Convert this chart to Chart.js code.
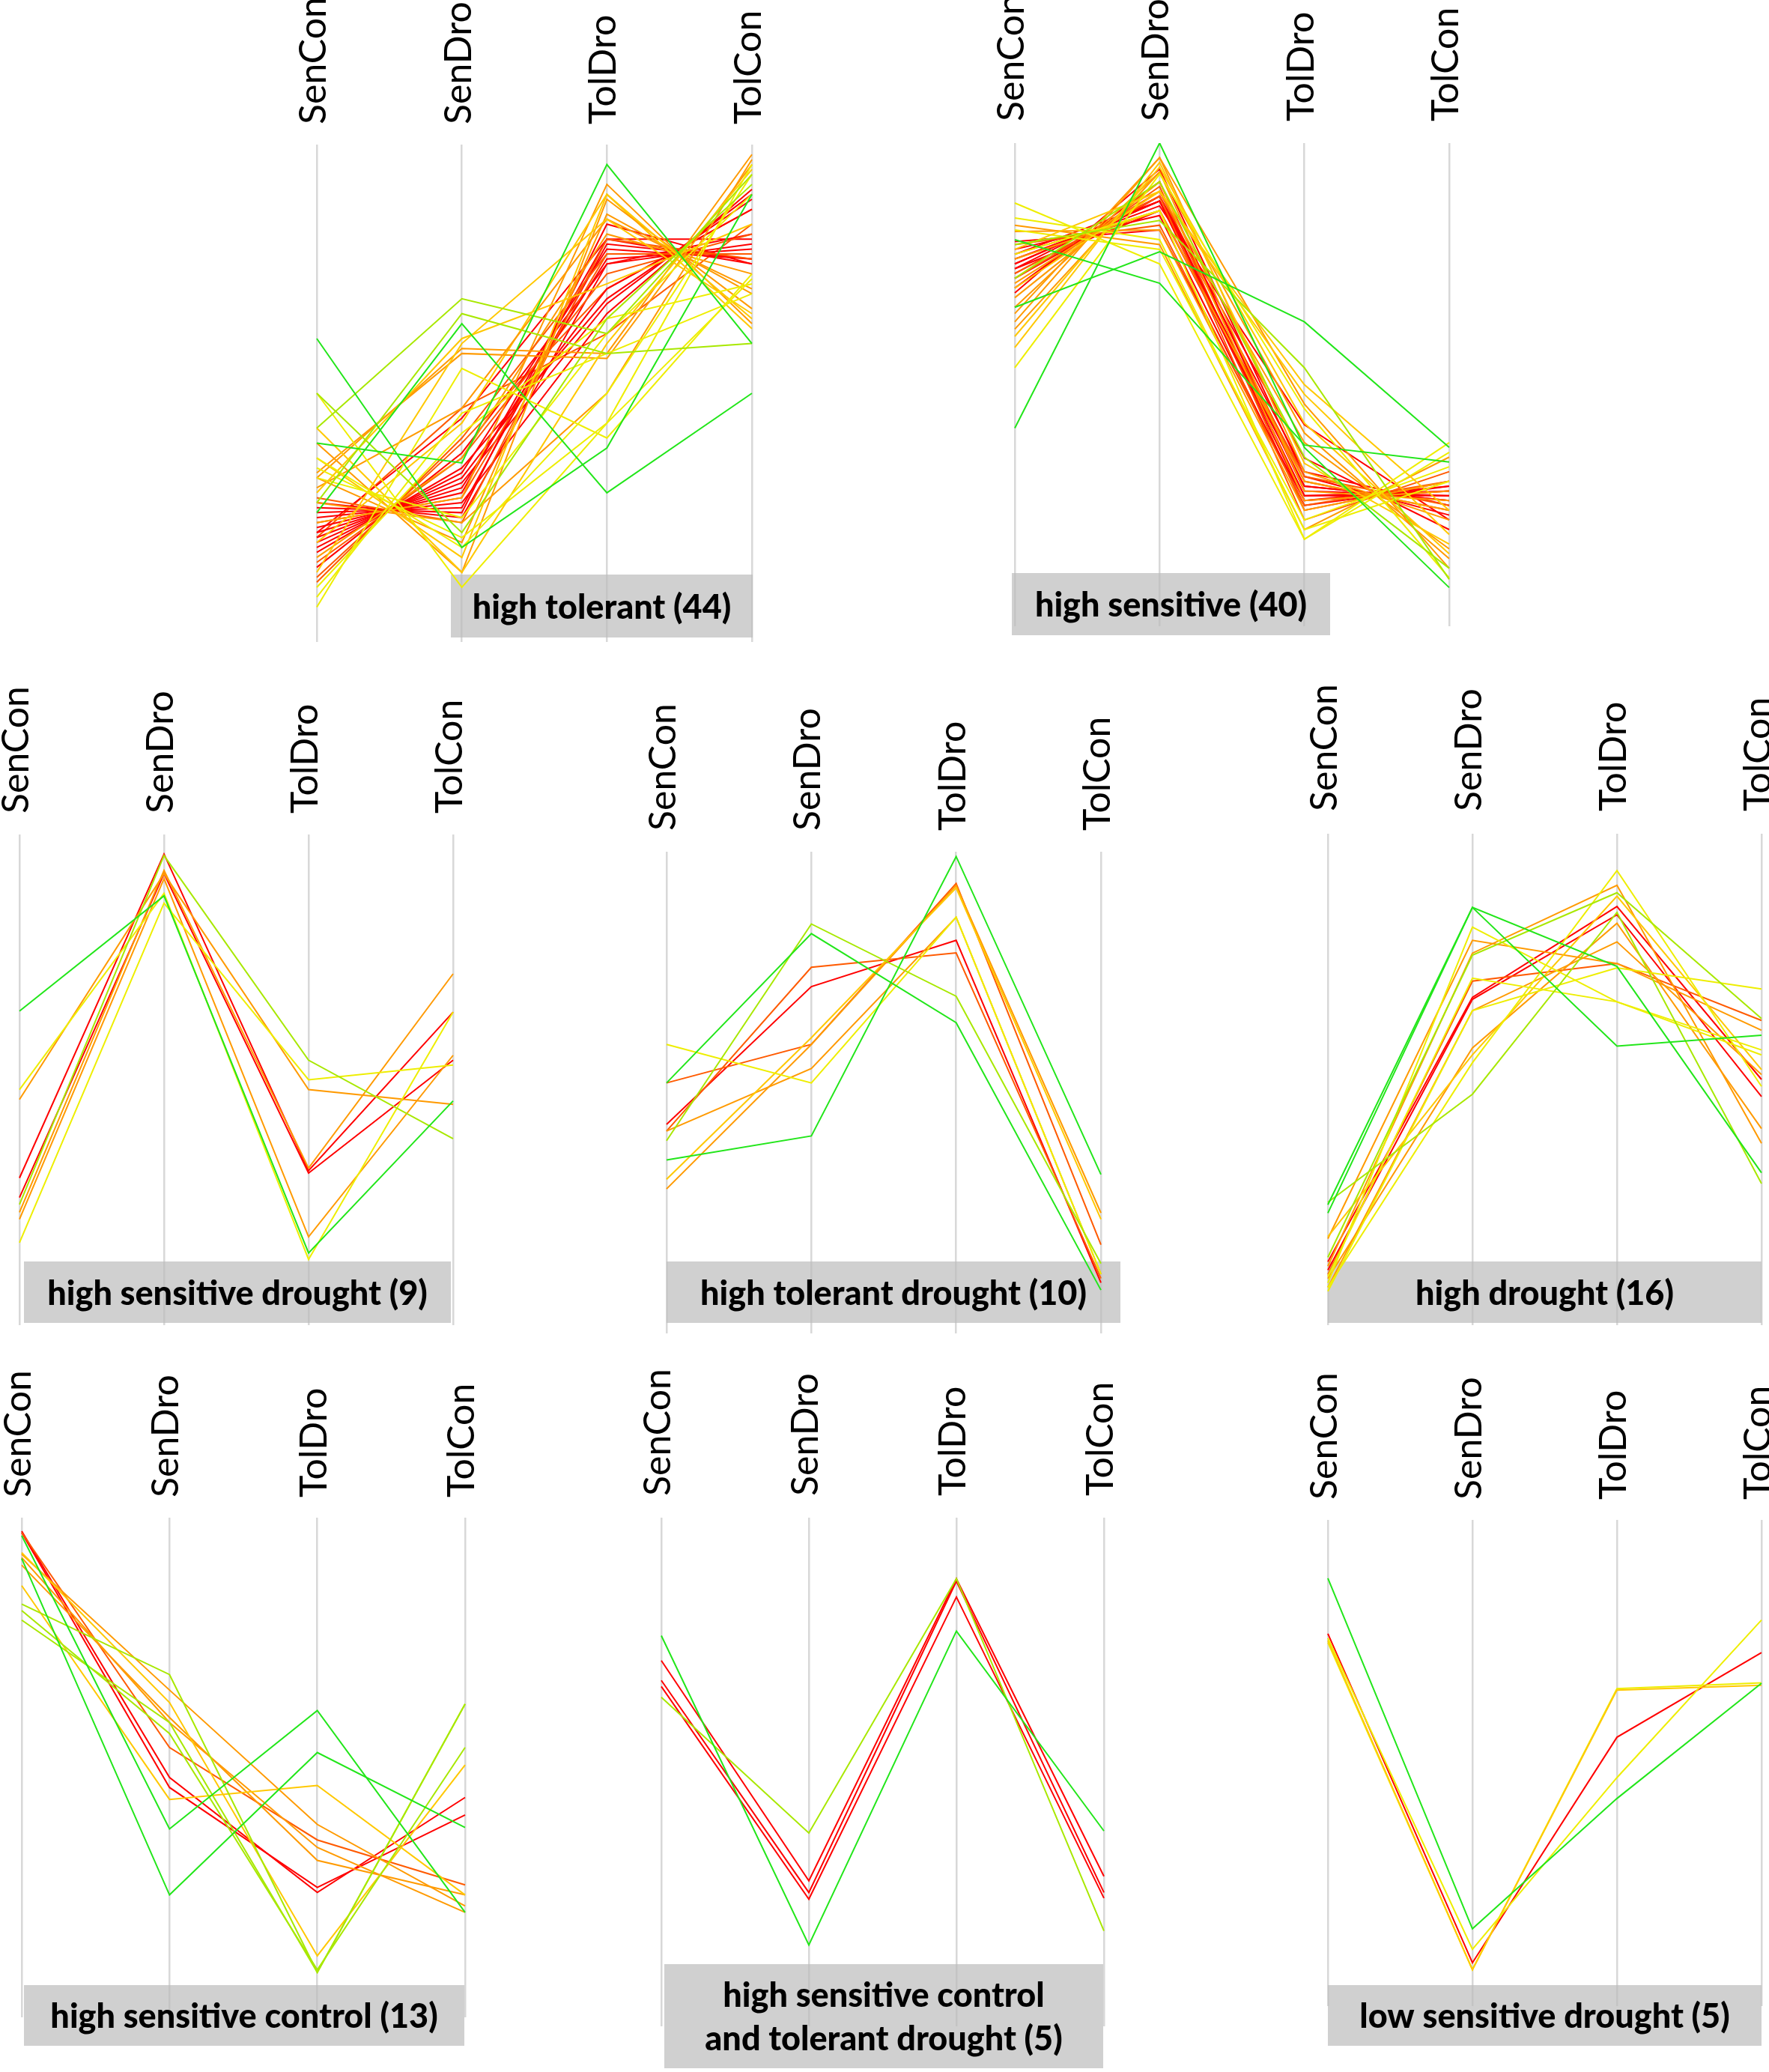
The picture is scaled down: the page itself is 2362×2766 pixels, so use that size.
<!DOCTYPE html>
<html>
<head>
<meta charset="utf-8">
<title>Expression profile clusters</title>
<style>
  html, body { margin: 0; padding: 0; background: #fff; }
  #page { position: relative; width: 2362px; height: 2766px; overflow: hidden; }
  #page canvas { position: absolute; }
</style>
</head>
<body>
<div id="page"></div>
<script src="https://cdn.jsdelivr.net/npm/chart.js@4.4.1/dist/chart.umd.min.js"></script>
<script>
  const conditions = ['SenCon', 'SenDro', 'TolDro', 'TolCon'];

  // each row is one gene: [SenCon, SenDro, TolDro, TolCon], relative scale 0..100
  const highTolerant = [
    [61, 19, 39, 90], [26, 64, 30, 50], [40, 36, 96, 60],
    [43, 69, 62, 94], [28, 66, 58, 60], [50, 22, 65, 92],
    [50, 11, 44, 96], [7, 55, 41, 74], [11, 42, 65, 72], [37, 19, 50, 94], [43, 14, 60, 95],
    [9, 46, 58, 70], [30, 61, 72, 84], [35, 21, 44, 73], [14, 60, 85, 66], [33, 25, 62, 90],
    [33, 59, 58, 98], [34, 58, 57, 96], [37, 17, 90, 65], [40, 14, 89, 67], [31, 47, 85, 71],
    [20, 44, 90, 63], [28, 24, 50, 97], [33, 20, 86, 70], [12, 41, 78, 78], [17, 37, 82, 74],
    [29, 24, 81, 77], [24, 29, 92, 64],
    [22, 31, 77, 79], [20, 33, 71, 87], [24, 29, 78, 78], [18, 35, 69, 89], [26, 27, 80, 77],
    [21, 32, 68, 90], [16, 37, 74, 82], [23, 30, 81, 76], [19, 34, 79, 77], [25, 28, 66, 91],
    [28, 25, 76, 80], [13, 40, 71, 87], [22, 45, 81, 81], [27, 26, 84, 76], [15, 38, 76, 82],
    [21, 47, 62, 84]
  ];
  const highTolerantCol = [
    'g', 'g', 'g', 'yg', 'yg', 'yg',
    'y', 'y', 'y', 'y', 'go', 'y', 'go', 'y', 'go', 'y',
    'o', 'o', 'go', 'o', 'o', 'go', 'o', 'o', 'ro', 'o', 'ro', 'o',
    'r', 'r', 'ro', 'r', 'r', 'r', 'ro', 'r', 'r', 'r', 'r', 'ro', 'r', 'r', 'r', 'ro'
  ];

  const highSensitive = [
    [41, 100, 37, 8], [66, 77.5, 63, 37], [80, 71, 37.5, 34],
    [79, 84, 53.5, 9.7], [72, 92, 35, 12],
    [87.6, 75, 18, 38], [84.5, 80, 20, 30], [53.5, 93.6, 45, 10], [78, 90, 50, 24],
    [82, 78, 22, 33], [60, 95, 42, 15], [77, 86, 18, 36], [70, 90, 48, 19],
    [81.7, 82, 24, 30], [64.7, 97, 46, 12], [57.7, 96, 33.7, 17], [61.5, 94, 40, 14],
    [83, 79, 20, 35], [68, 92, 26, 28], [73, 89, 22, 32], [76, 86, 30, 24],
    [66, 94, 28, 26], [79, 83, 25, 30], [71, 90, 38, 16], [63, 97, 32, 22],
    [75, 88, 29, 26], [73, 89, 27, 28], [77, 86, 31, 25], [70, 92, 28, 27], [79.6, 82, 26, 29],
    [74, 89, 34.8, 20], [76, 87, 41.7, 22], [72, 90, 30, 24], [78, 85, 25, 29], [69, 94.6, 31, 23],
    [75, 88, 27, 27], [70, 91, 24, 30], [74, 86, 29, 26], [77, 88, 26, 28], [72, 89, 32, 25]
  ];
  const highSensitiveCol = [
    'g', 'g', 'g', 'yg', 'yg',
    'y', 'y', 'y', 'go', 'y', 'go', 'y', 'go',
    'o', 'o', 'go', 'o', 'o', 'o', 'ro', 'o', 'o', 'ro', 'o', 'o',
    'r', 'r', 'ro', 'r', 'r', 'r', 'r', 'ro', 'r', 'r', 'r', 'ro', 'r', 'r', 'r'
  ];

  const highSensDrought = [
    [64, 87.5, 14.7, 45.7], [24.6, 95.7, 54, 38], [48, 88, 13.4, 63.8], [16.8, 86, 50, 53],
    [46, 92, 48, 45], [23, 92.7, 32, 71.6], [21.6, 91, 18, 55],
    [30, 96, 31.5, 63.8], [26, 92, 31, 54]
  ];
  const highSensDroughtCol = ['g', 'yg', 'y', 'y', 'o', 'o', 'o', 'r', 'r'];

  const highTolDrought = [
    [36, 41, 99, 33], [52, 83, 64.5, 9], [40, 85, 70, 14.5], [60, 52, 86.4, 12.3],
    [32, 61.4, 92.5, 23.7], [30, 60, 93, 25], [42, 55, 86.4, 12.3],
    [52, 60, 93.4, 18.4], [42, 76, 79, 11.4], [43.4, 72, 81.6, 10.5]
  ];
  const highTolDroughtCol = ['g', 'g', 'yg', 'y', 'go', 'o', 'o', 'ro', 'ro', 'r'];

  const highDrought = [
    [24.5, 85, 73, 31], [22.8, 85, 56.8, 59], [13.8, 75.3, 88, 62.4], [25, 47, 84, 28.8],
    [8.6, 81, 65.8, 56], [6.9, 64, 72.7, 68.4], [7.7, 53.4, 92.5, 48.6], [9.9, 70.6, 65.8, 55],
    [18, 55, 87.3, 52], [17.6, 78.3, 73.6, 60], [12, 75.7, 89.5, 37], [7.7, 64, 78, 51],
    [9.5, 56.4, 81.8, 40], [10.3, 70, 73.6, 62], [12.9, 66.7, 85.2, 50], [11.2, 66.3, 83.5, 46.5]
  ];
  const highDroughtCol = ['g', 'g', 'yg', 'yg', 'y', 'y', 'y', 'y', 'go', 'o', 'o', 'o', 'o', 'ro', 'r', 'r'];

  const highSensControl = [
    [96.4, 37.7, 61.4, 21], [91.8, 24.5, 53, 38], [82.7, 68.6, 9, 62.7], [81.4, 56.8, 9.5, 54],
    [79.5, 59, 9, 62.7], [93, 63, 12.3, 50.5], [86.4, 43.6, 46.4, 24.5], [92.7, 65.5, 38.6, 22.3],
    [90.5, 60, 31.4, 24.5], [92, 59, 34, 21], [97, 54, 35.5, 26.5], [97.3, 48, 25, 44],
    [97, 46, 26, 40.5]
  ];
  const highSensControlCol = ['g', 'g', 'yg', 'yg', 'yg', 'go', 'go', 'o', 'o', 'o', 'ro', 'r', 'r'];

  const sensControlTolDrought = [
    [76.8, 16, 77.7, 38.4], [64.7, 38, 88, 18.75], [71.9, 28.6, 88, 29.5],
    [68, 26.3, 87.5, 26.3], [66.8, 25, 84.4, 25.2]
  ];
  const sensControlTolDroughtCol = ['g', 'yg', 'r', 'r', 'r'];

  const lowSensDrought = [
    [88, 15.9, 42.7, 66.4], [75.7, 11.7, 47, 79.4], [75.2, 7.5, 65, 66],
    [74.8, 7.5, 65.3, 66.5], [76.6, 8.9, 55.3, 72.7]
  ];
  const lowSensDroughtCol = ['g', 'y', 'go', 'y', 'r'];

  const palette = {
    g: '#22e61a', yg: '#a8e800', y: '#eeee00', go: '#ffc800',
    o: '#ff9a00', ro: '#ff5a00', r: '#ff0000'
  };

  // page layout: first/last axis x, plot top/bottom, label start y, label box
  const panels = [
    { lines: highTolerant, cols: highTolerantCol, title: ['high tolerant (44)'],
      x0: 423, x1: 1004, top: 193, bottom: 857, labelY: 166, box: [602, 767, 1005, 851] },
    { lines: highSensitive, cols: highSensitiveCol, title: ['high sensitive (40)'],
      x0: 1355, x1: 1935, top: 191, bottom: 836, labelY: 162, box: [1351, 765, 1776, 848] },
    { lines: highSensDrought, cols: highSensDroughtCol, title: ['high sensitive drought (9)'],
      x0: 26, x1: 605, top: 1114, bottom: 1769, labelY: 1086, box: [32, 1684, 602, 1766] },
    { lines: highTolDrought, cols: highTolDroughtCol, title: ['high tolerant drought (10)'],
      x0: 890, x1: 1470, top: 1137, bottom: 1780, labelY: 1109, box: [890, 1684, 1496, 1766] },
    { lines: highDrought, cols: highDroughtCol, title: ['high drought (16)'],
      x0: 1773, x1: 2352, top: 1113, bottom: 1769, labelY: 1083, box: [1773, 1684, 2352, 1766] },
    { lines: highSensControl, cols: highSensControlCol, title: ['high sensitive control (13)'],
      x0: 29, x1: 621, top: 2026, bottom: 2693, labelY: 1999, box: [32, 2650, 620, 2731] },
    { lines: sensControlTolDrought, cols: sensControlTolDroughtCol,
      title: ['high sensitive control', 'and tolerant drought (5)'],
      x0: 883, x1: 1474, top: 2026, bottom: 2705, labelY: 1997, box: [887, 2622, 1473, 2761] },
    { lines: lowSensDrought, cols: lowSensDroughtCol, title: ['low sensitive drought (5)'],
      x0: 1773, x1: 2352, top: 2029, bottom: 2678, labelY: 2002, box: [1773, 2650, 2352, 2731] }
  ];

  const panelDecor = {
    id: 'panelDecor',
    beforeDatasetsDraw(chart, args, opts) {
      const ctx = chart.ctx;
      const b = opts.box;
      ctx.save();
      ctx.fillStyle = 'rgba(188,188,188,0.7)';
      ctx.fillRect(b[0] - opts.ox, b[1] - opts.oy, b[2] - b[0], b[3] - b[1]);
      ctx.restore();
    },
    afterDatasetsDraw(chart, args, opts) {
      const ctx = chart.ctx;
      const b = opts.box;
      const title = opts.title;
      ctx.save();
      ctx.fillStyle = '#000';
      ctx.font = '900 45px Lato';
      ctx.textAlign = 'center';
      ctx.textBaseline = 'middle';
      const cx = (b[0] + b[2]) / 2 - opts.ox;
      const cy = (b[1] + b[3]) / 2 - opts.oy + 2;
      const lh = 58;
      title.forEach((t, i) => {
        ctx.fillText(t, cx, cy + (i - (title.length - 1) / 2) * lh);
      });

      // rotated axis names above each vertical axis
      const xs = chart.scales.x;
      ctx.font = '50px Lato';
      ctx.textAlign = 'left';
      ctx.textBaseline = 'middle';
      conditions.forEach((c, i) => {
        ctx.save();
        ctx.translate(xs.getPixelForValue(i) - 4, opts.labelY - opts.oy);
        ctx.rotate(-Math.PI / 2);
        ctx.fillText(c, 0, 0);
        ctx.restore();
      });
      ctx.restore();
    }
  };

  const page = document.getElementById('page');

  panels.forEach((p) => {
    const left = Math.max(0, p.x0 - 45);
    const right = Math.min(2362, p.x1 + 45);
    const top = Math.max(0, p.labelY - 200);
    const bottom = Math.min(2766, Math.max(p.bottom, p.box[3]) + 4);

    const canvas = document.createElement('canvas');
    canvas.width = right - left;
    canvas.height = bottom - top;
    canvas.style.left = left + 'px';
    canvas.style.top = top + 'px';
    canvas.style.width = (right - left) + 'px';
    canvas.style.height = (bottom - top) + 'px';
    page.appendChild(canvas);

    new Chart(canvas, {
      type: 'line',
      data: {
        labels: conditions,
        datasets: p.lines.map((vals, i) => ({
          data: vals,
          borderColor: palette[p.cols[i]],
          borderWidth: 2,
          pointRadius: 0,
          tension: 0,
          fill: false
        }))
      },
      options: {
        responsive: false,
        animation: false,
        devicePixelRatio: 1,
        events: [],
        layout: {
          padding: {
            left: p.x0 - left,
            right: right - p.x1,
            top: p.top - top,
            bottom: bottom - p.bottom
          }
        },
        scales: {
          x: {
            type: 'category',
            position: 'top',
            offset: false,
            border: { display: false },
            grid: { color: '#d8d8d8', lineWidth: 2.5, drawTicks: false },
            ticks: { display: false }
          },
          y: { display: false, min: 0, max: 100 }
        },
        plugins: {
          legend: { display: false },
          tooltip: { enabled: false },
          panelDecor: { box: p.box, title: p.title, labelY: p.labelY, ox: left, oy: top }
        }
      },
      plugins: [panelDecor]
    });
  });
</script>
</body>
</html>
